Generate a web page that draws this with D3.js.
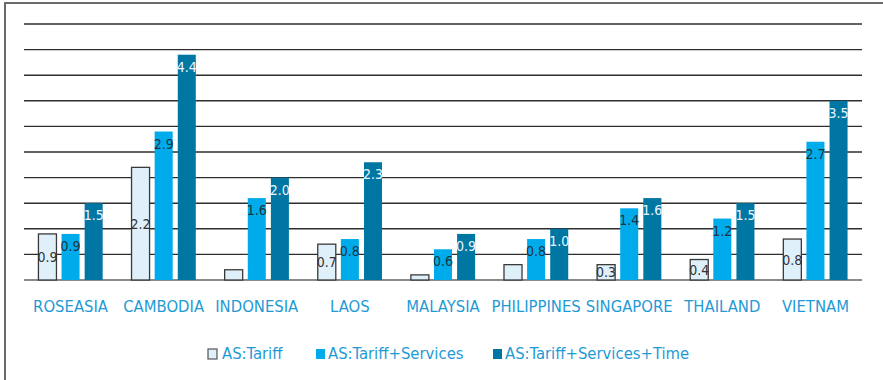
<!DOCTYPE html>
<html>
<head>
<meta charset="utf-8">
<script src="https://cdn.jsdelivr.net/npm/d3@7/dist/d3.min.js"></script>
<style>
  html, body { margin: 0; padding: 0; background: #fff; }
  svg { display: block; font-family: "DejaVu Sans Condensed", "DejaVu Sans", sans-serif; font-stretch: condensed; }
</style>
</head>
<body>
<svg id="chart" width="883" height="380"></svg>
<script>
// Chart data
const categories = ["ROSEASIA", "CAMBODIA", "INDONESIA", "LAOS", "MALAYSIA", "PHILIPPINES", "SINGAPORE", "THAILAND", "VIETNAM"];
const seriesNames = ["AS:Tariff", "AS:Tariff+Services", "AS:Tariff+Services+Time"];
const tariff = [0.9, 2.2, 0.2, 0.7, 0.1, 0.3, 0.3, 0.4, 0.8];
const tariffShown = [true, true, false, true, false, false, true, true, true];
const tariffServices = [0.9, 2.9, 1.6, 0.8, 0.6, 0.8, 1.4, 1.2, 2.7];
const tariffServicesTime = [1.5, 4.4, 2.0, 2.3, 0.9, 1.0, 1.6, 1.5, 3.5];
const yTicks = [0, 0.5, 1, 1.5, 2, 2.5, 3, 3.5, 4, 4.5, 5];

const fills = ["#dff0fb", "#00abeb", "#0077a3"];
const labelColors = ["#333333", "#1c3440", "#eaf6ff"];

const svg = d3.select("#chart");
const plot = { left: 24, right: 862, top: 24, bottom: 280 };

const x0 = d3.scaleBand().domain(categories).range([plot.left, plot.right])
  .paddingInner(0.31).paddingOuter(0.155);
const x1 = d3.scaleBand().domain(d3.range(3)).range([0, x0.bandwidth()])
  .paddingInner(0.22).paddingOuter(0);
const y = d3.scaleLinear().domain([0, 5]).range([plot.bottom, plot.top]);

// Outer frame (left and top edges)
svg.append("path")
  .attr("d", "M5,380 V3 H883")
  .attr("fill", "none").attr("stroke", "#6a6a6a").attr("stroke-width", 2);

// Horizontal gridlines
svg.append("g").selectAll("line").data(yTicks).join("line")
  .attr("x1", plot.left).attr("x2", plot.right)
  .attr("y1", d => y(d)).attr("y2", d => y(d))
  .attr("stroke", d => d === 0 ? "#8a8a8a" : "#2e2e2e")
  .attr("stroke-width", d => d === 0 ? 2 : 1.4);

const rows = categories.map((c, i) => ({
  cat: c,
  vals: [tariff[i], tariffServices[i], tariffServicesTime[i]],
  shown: [tariffShown[i], true, true]
}));

const groups = svg.append("g").selectAll("g").data(rows).join("g")
  .attr("transform", d => `translate(${x0(d.cat)},0)`);

groups.selectAll("rect").data(d => d.vals.map((v, k) => ({ v, k }))).join("rect")
  .attr("x", d => x1(d.k))
  .attr("width", x1.bandwidth())
  .attr("y", d => y(d.v))
  .attr("height", d => y(0) - y(d.v))
  .attr("fill", d => fills[d.k])
  .attr("stroke", d => d.k === 0 ? "#3a3a3a" : "none")
  .attr("stroke-width", 1.3);

// Value labels: centred in the tariff bar, inside the top end of the others
groups.selectAll("text.val")
  .data(d => d.vals.map((v, k) => ({ v, k, shown: d.shown[k] })).filter(e => e.shown))
  .join("text").attr("class", "val")
  .attr("x", d => x1(d.k) + x1.bandwidth() / 2)
  .attr("y", d => d.k === 0 ? (y(d.v) + y(0)) / 2 + 5 : y(d.v) + 17)
  .attr("text-anchor", "middle")
  .attr("font-size", 14)
  .attr("fill", d => labelColors[d.k])
  .text(d => d3.format(".1f")(d.v));

// Category axis labels
svg.append("g").selectAll("text").data(categories).join("text")
  .attr("x", d => x0(d) + x0.bandwidth() / 2)
  .attr("y", 312)
  .attr("text-anchor", "middle")
  .attr("font-size", 16.5)
  .attr("fill", "#1f9ad5")
  .text(d => d);

// Legend
const legendItems = [
  { name: seriesNames[0], x: 208 },
  { name: seriesNames[1], x: 316 },
  { name: seriesNames[2], x: 493 }
];
const lg = svg.append("g").selectAll("g").data(legendItems).join("g")
  .attr("transform", d => `translate(${d.x},349)`);
lg.append("rect")
  .attr("width", 9).attr("height", 10)
  .attr("fill", (d, i) => fills[i])
  .attr("stroke", (d, i) => i === 0 ? "#555" : "none")
  .attr("stroke-width", 1.2);
lg.append("text")
  .attr("x", (d, i) => i === 0 ? 14 : 12)
  .attr("y", 10)
  .attr("font-size", 16.5)
  .attr("fill", "#1f9ad5")
  .text(d => d.name);
</script>
</body>
</html>
